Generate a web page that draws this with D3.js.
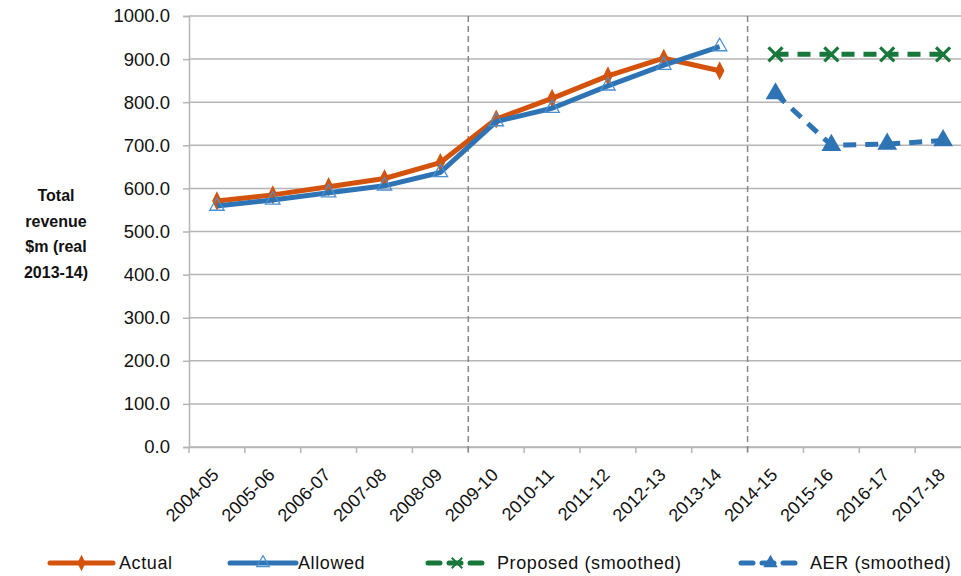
<!DOCTYPE html>
<html><head><meta charset="utf-8">
<script src="https://cdn.jsdelivr.net/npm/d3@7"></script>
<style>body{margin:0;background:#fff}svg{display:block}text{font-family:"Liberation Sans",Arial,sans-serif}</style>
</head><body>
<svg id="c" width="961" height="576"></svg>
<script>
const categories = ["2004-05","2005-06","2006-07","2007-08","2008-09","2009-10","2010-11","2011-12","2012-13","2013-14","2014-15","2015-16","2016-17","2017-18"];
const actual   = [571,585,604,623,660,761,809,861,902,873,null,null,null,null];
const allowed  = [559,573,590,606,637,755,786,838,886,929,null,null,null,null];
const proposed = [null,null,null,null,null,null,null,null,null,null,911,911,911,911];
const aer      = [null,null,null,null,null,null,null,null,null,null,820,700,703,711];
const yTicks = [0,100,200,300,400,500,600,700,800,900,1000];
const dividers = ["2009-10","2014-15"];
const titleLines = ["Total","revenue","$m (real","2013-14)"];
const legendItems = ["Actual","Allowed","Proposed (smoothed)","AER (smoothed)"];

const svg = d3.select("#c");
const x = d3.scaleBand().domain(categories).range([189, 971]);
const y = d3.scaleLinear().domain([0,1000]).range([447, 16]);
const cx = c => x(c) + x.bandwidth()/2;
const grid = "#b5b5b5";

// gridlines
svg.append("g").selectAll("line").data(yTicks).join("line")
  .attr("x1", 189).attr("x2", 961).attr("y1", d=>y(d)).attr("y2", d=>y(d))
  .attr("stroke", grid).attr("stroke-width", 1.5);

// y axis
const yAxis = svg.append("g").attr("transform","translate(189,0)")
  .call(d3.axisLeft(y).tickValues(yTicks).tickSize(6).tickPadding(13).tickFormat(d3.format(".1f")));
yAxis.select(".domain").attr("stroke", grid).attr("stroke-width",1.5);
yAxis.selectAll(".tick line").attr("stroke", grid).attr("stroke-width",1.5);
yAxis.selectAll("text").attr("font-size",18.5).attr("fill","#111").attr("font-family","Liberation Sans, Arial, sans-serif");

// x axis
const xAxis = svg.append("g").attr("transform","translate(0,447)")
  .call(d3.axisBottom(x).tickSize(0).tickFormat(""));
xAxis.select(".domain").attr("stroke", grid).attr("stroke-width",1.5);
xAxis.selectAll(".tick").remove();
svg.append("g").selectAll("line").data(categories).join("line")
  .attr("x1", d=>x(d)).attr("x2", d=>x(d)).attr("y1",447).attr("y2",453)
  .attr("stroke", grid).attr("stroke-width",1.5);
svg.append("g").selectAll("text").data(categories).join("text")
  .attr("transform", d=>`translate(${cx(d)+3},476) rotate(-45)`)
  .attr("text-anchor","end").attr("font-size",18).attr("fill","#111").text(d=>d);

// dividers
svg.append("g").selectAll("line").data(dividers).join("line")
  .attr("x1", d=>x(d)).attr("x2", d=>x(d)).attr("y1", y(1000)).attr("y2", 453)
  .attr("stroke","#888").attr("stroke-width",1.5).attr("stroke-dasharray","6,4");

// title
svg.append("g").selectAll("text").data(titleLines).join("text")
  .attr("x",56).attr("y",(d,i)=>201+i*25.6).attr("text-anchor","middle")
  .attr("font-size",16).attr("font-weight","bold").attr("fill","#111").text(d=>d);

const line = d3.line().defined(d=>d.v!=null).x(d=>cx(d.c)).y(d=>y(d.v));
const pts = arr => categories.map((c,i)=>({c, v:arr[i]}));

const orange="#d4530c", blue="#2e74b5", green="#18773a";
const tri = d3.symbol().type(d3.symbolTriangle);
const dia = d3.symbol().type(d3.symbolDiamond);

// Actual
svg.append("path").attr("d", line(pts(actual))).attr("fill","none").attr("stroke",orange).attr("stroke-width",5).attr("stroke-linejoin","round");
svg.append("g").selectAll("path").data(pts(actual).filter(d=>d.v!=null)).join("path")
  .attr("transform", d=>`translate(${cx(d.c)},${y(d.v)}) scale(1,1.15)`)
  .attr("d", dia.size(80)()).attr("fill",orange);
// Allowed
svg.append("path").attr("d", line(pts(allowed))).attr("fill","none").attr("stroke",blue).attr("stroke-width",5).attr("stroke-linejoin","round");
svg.append("g").selectAll("path").data(pts(allowed).filter(d=>d.v!=null)).join("path")
  .attr("transform", d=>`translate(${cx(d.c)},${y(d.v)})`)
  .attr("d", tri.size(90)()).attr("fill","none").attr("stroke","#4a8fd0").attr("stroke-width",1.3);
// Proposed
svg.append("path").attr("d", line(pts(proposed))).attr("fill","none").attr("stroke",green).attr("stroke-width",5).attr("stroke-dasharray","13,9");
const xmark = "M-7,-7L7,7M-7,7L7,-7";
svg.append("g").selectAll("path").data(pts(proposed).filter(d=>d.v!=null)).join("path")
  .attr("transform", d=>`translate(${cx(d.c)},${y(d.v)})`)
  .attr("d", xmark).attr("stroke",green).attr("stroke-width",3.2).attr("fill","none");
// AER
svg.append("path").attr("d", line(pts(aer))).attr("fill","none").attr("stroke",blue).attr("stroke-width",5).attr("stroke-dasharray","13,9");
svg.append("g").selectAll("path").data(pts(aer).filter(d=>d.v!=null)).join("path")
  .attr("transform", d=>`translate(${cx(d.c)},${y(d.v)})`)
  .attr("d", tri.size(170)()).attr("fill",blue);

// legend
const lg = svg.append("g");
const ly = 563;
const legend = [
  {name:legendItems[0], x1:50, x2:113, tx:119, color:orange, dash:null, marker:"dia"},
  {name:legendItems[1], x1:230, x2:296, tx:298, color:blue, dash:null, marker:"tri"},
  {name:legendItems[2], x1:428, x2:486, tx:497, color:green, dash:"12,9", marker:"x"},
  {name:legendItems[3], x1:741, x2:800, tx:810, color:blue, dash:"12,9", marker:"ftri"}
];
legend.forEach(l=>{
  lg.append("line").attr("x1",l.x1).attr("x2",l.x2).attr("y1",ly).attr("y2",ly)
    .attr("stroke",l.color).attr("stroke-width",5).attr("stroke-linecap","round")
    .attr("stroke-dasharray",l.dash);
  const mx=(l.x1+l.x2)/2;
  if(l.marker==="dia") lg.append("path").attr("transform",`translate(${mx},${ly}) scale(1,1.15)`).attr("d",dia.size(60)()).attr("fill",l.color);
  if(l.marker==="tri") lg.append("path").attr("transform",`translate(${mx},${ly})`).attr("d",tri.size(70)()).attr("fill","none").attr("stroke","#4a8fd0").attr("stroke-width",1.2);
  if(l.marker==="x") lg.append("path").attr("transform",`translate(${mx},${ly}) scale(0.75)`).attr("d",xmark).attr("stroke",l.color).attr("stroke-width",2.5);
  if(l.marker==="ftri") lg.append("path").attr("transform",`translate(${mx},${ly})`).attr("d",tri.size(90)()).attr("fill",l.color);
  lg.append("text").attr("x",l.tx).attr("y",ly+6).attr("font-size",18).attr("letter-spacing",0.6).attr("fill","#111").text(l.name);
});
</script>
</body></html>
